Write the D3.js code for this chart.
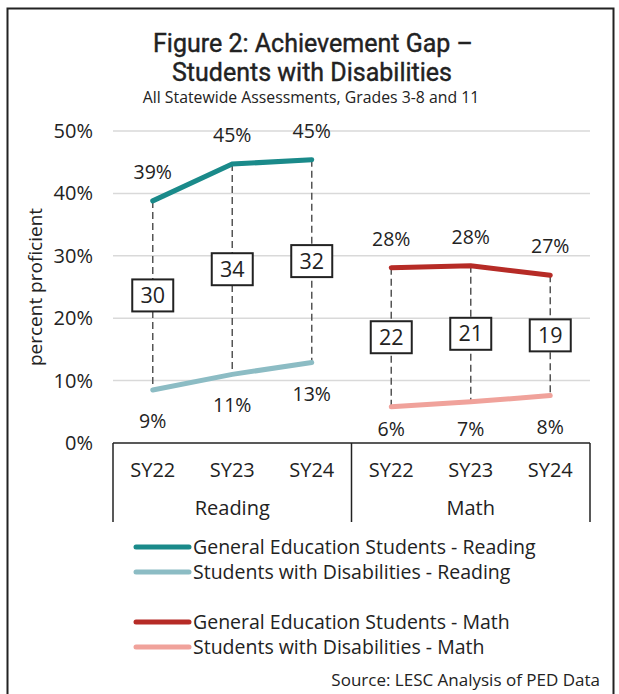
<!DOCTYPE html>
<html>
<head>
<meta charset="utf-8">
<script src="https://cdn.jsdelivr.net/npm/d3@7"></script>
<style>
  body { margin: 0; background: #fff; }
  svg text { font-family: "Open Sans", "Liberation Sans", Arial, sans-serif; fill: #222; }
</style>
</head>
<body>
<div id="chart"></div>
<script>
// data
const years = ['SY22', 'SY23', 'SY24'];
const subjects = ['Reading', 'Math'];
const genEdReading = [38.8, 44.7, 45.4];
const swdReading = [8.5, 11.0, 12.9];
const genEdMath = [28.1, 28.4, 26.9];
const swdMath = [5.8, 6.6, 7.6];
const genEdReadingLabels = ['39%', '45%', '45%'];
const swdReadingLabels = ['9%', '11%', '13%'];
const genEdMathLabels = ['28%', '28%', '27%'];
const swdMathLabels = ['6%', '7%', '8%'];
const readingGaps = [30, 34, 32];
const mathGaps = [22, 21, 19];
const yTicks = [0, 10, 20, 30, 40, 50];

const seriesNames = [
  'General Education Students - Reading',
  'Students with Disabilities - Reading',
  'General Education Students - Math',
  'Students with Disabilities - Math'
];
const seriesColors = ['#1a8a8a', '#8cbcc4', '#b62b26', '#f0a29b'];

const width = 619,
    height = 694,
    margins = { top: 131, right: 29, bottom: 251, left: 113 };

const $svg = d3.select('#chart').append('svg')
  .attr('width', width)
  .attr('height', height);

// frame
$svg.append('path')
  .attr('d', `M7.5,${height + 2}V8.5H613.5V${height + 2}`)
  .attr('fill', 'none')
  .attr('stroke', '#222')
  .attr('stroke-width', 2);

// title
const titleFont = 'Roboto, "Liberation Sans", sans-serif';
$svg.append('text')
  .attr('x', 313).attr('y', 52)
  .attr('text-anchor', 'middle')
  .style('font-family', titleFont)
  .style('font-size', '25px')
  .style('stroke', '#222')
  .style('stroke-width', 0.4)
  .text('Figure 2: Achievement Gap –');
$svg.append('text')
  .attr('x', 312).attr('y', 81)
  .attr('text-anchor', 'middle')
  .style('font-family', titleFont)
  .style('font-size', '25px')
  .style('stroke', '#222')
  .style('stroke-width', 0.4)
  .text('Students with Disabilities');
$svg.append('text')
  .attr('x', 311).attr('y', 103)
  .attr('text-anchor', 'middle')
  .style('font-size', '15.8px')
  .text('All Statewide Assessments, Grades 3-8 and 11');

// scales
const cats = [];
subjects.forEach(s => years.forEach(y => cats.push(s + '|' + y)));

const x = d3.scaleBand()
  .domain(cats)
  .range([margins.left, width - margins.right]);

const y = d3.scaleLinear()
  .domain([0, 50])
  .range([height - margins.bottom, margins.top]);

const cx = (s, yr) => x(s + '|' + yr) + x.bandwidth() / 2;

// gridlines
$svg.append('g')
  .selectAll('line')
  .data(yTicks.filter(d => d > 0))
  .enter()
  .append('line')
  .attr('x1', x.range()[0])
  .attr('x2', x.range()[1])
  .attr('y1', d => y(d))
  .attr('y2', d => y(d))
  .attr('stroke', '#d9d9d9')
  .attr('stroke-width', 1.5);

// y axis
const yAxis = d3.axisLeft(y)
  .tickValues(yTicks)
  .tickSize(0)
  .tickPadding(20)
  .tickFormat(d => d + '%');

const $yAxis = $svg.append('g')
  .attr('transform', `translate(${margins.left},0)`)
  .call(yAxis);
$yAxis.select('.domain').remove();
$yAxis.selectAll('text')
  .style('font-family', '"Open Sans", sans-serif')
  .style('font-size', '20px')
  .style('fill', '#222');

$svg.append('text')
  .attr('transform', `translate(42,${(y(0) + y(50)) / 2}) rotate(-90)`)
  .attr('text-anchor', 'middle')
  .style('font-size', '19px')
  .text('percent proficient');

// category axis (two levels)
const axisTop = y(0);
const axisBottom = 522;
const $catAxis = $svg.append('g');

$catAxis.append('line')
  .attr('x1', x.range()[0]).attr('x2', x.range()[1])
  .attr('y1', axisTop).attr('y2', axisTop)
  .attr('stroke', '#222').attr('stroke-width', 1.5);

const bounds = [x.range()[0]].concat(subjects.map(s => x(s + '|' + years[years.length - 1]) + x.bandwidth()));
$catAxis.selectAll('.sep')
  .data(bounds)
  .enter()
  .append('line')
  .attr('x1', d => d).attr('x2', d => d)
  .attr('y1', axisTop).attr('y2', axisBottom)
  .attr('stroke', '#222').attr('stroke-width', 1.5);

$catAxis.selectAll('.year-label')
  .data(cats)
  .enter()
  .append('text')
  .attr('x', d => x(d) + x.bandwidth() / 2)
  .attr('y', 477)
  .attr('text-anchor', 'middle')
  .style('font-size', '20px')
  .text(d => d.split('|')[1]);

$catAxis.selectAll('.subject-label')
  .data(subjects)
  .enter()
  .append('text')
  .attr('x', d => (x(d + '|' + years[0]) + x(d + '|' + years[years.length - 1]) + x.bandwidth()) / 2)
  .attr('y', 515)
  .attr('text-anchor', 'middle')
  .style('font-size', '20px')
  .text(d => d);

// groups of series
const groups = [
  { subject: 'Reading', top: genEdReading, bottom: swdReading, topLabels: genEdReadingLabels, bottomLabels: swdReadingLabels, gaps: readingGaps, colors: [seriesColors[0], seriesColors[1]] },
  { subject: 'Math', top: genEdMath, bottom: swdMath, topLabels: genEdMathLabels, bottomLabels: swdMathLabels, gaps: mathGaps, colors: [seriesColors[2], seriesColors[3]] }
];

const line = d3.line()
  .x(d => d[0])
  .y(d => d[1]);

groups.forEach(g => {
  const topPts = years.map((yr, i) => [cx(g.subject, yr), y(g.top[i])]);
  const botPts = years.map((yr, i) => [cx(g.subject, yr), y(g.bottom[i])]);

  // dashed connectors
  $svg.append('g')
    .selectAll('line')
    .data(years)
    .enter()
    .append('line')
    .attr('x1', (d, i) => topPts[i][0])
    .attr('x2', (d, i) => botPts[i][0])
    .attr('y1', (d, i) => topPts[i][1])
    .attr('y2', (d, i) => botPts[i][1])
    .attr('stroke', '#555')
    .attr('stroke-width', 1.5)
    .attr('stroke-dasharray', '7,4');

  $svg.append('path')
    .attr('d', line(topPts))
    .attr('fill', 'none')
    .attr('stroke', g.colors[0])
    .attr('stroke-width', 5)
    .attr('stroke-linecap', 'round');

  $svg.append('path')
    .attr('d', line(botPts))
    .attr('fill', 'none')
    .attr('stroke', g.colors[1])
    .attr('stroke-width', 5)
    .attr('stroke-linecap', 'round');

  // value labels
  $svg.append('g')
    .selectAll('text')
    .data(g.topLabels)
    .enter()
    .append('text')
    .attr('x', (d, i) => topPts[i][0])
    .attr('y', (d, i) => topPts[i][1] - 22)
    .attr('text-anchor', 'middle')
    .style('font-size', '19.5px')
    .text(d => d);

  $svg.append('g')
    .selectAll('text')
    .data(g.bottomLabels)
    .enter()
    .append('text')
    .attr('x', (d, i) => botPts[i][0])
    .attr('y', (d, i) => Math.min(botPts[i][1] + 38, 436))
    .attr('text-anchor', 'middle')
    .style('font-size', '19.5px')
    .text(d => d);

  // gap boxes
  const $boxes = $svg.append('g')
    .selectAll('g')
    .data(g.gaps)
    .enter()
    .append('g')
    .attr('transform', (d, i) => `translate(${topPts[i][0]},${(topPts[i][1] + botPts[i][1]) / 2})`);

  $boxes.append('rect')
    .attr('x', -20.5).attr('y', -16)
    .attr('width', 41).attr('height', 32)
    .attr('fill', '#fff')
    .attr('stroke', '#222')
    .attr('stroke-width', 2);

  $boxes.append('text')
    .attr('y', 7.5)
    .attr('text-anchor', 'middle')
    .style('font-size', '21.5px')
    .text(d => d);
});

// legend
const legendY = [547, 572, 622, 647];
const $legend = $svg.append('g')
  .selectAll('g')
  .data(seriesNames)
  .enter()
  .append('g')
  .attr('transform', (d, i) => `translate(136,${legendY[i]})`);

$legend.append('line')
  .attr('x1', 0).attr('x2', 53)
  .attr('stroke', (d, i) => seriesColors[i])
  .attr('stroke-width', 5)
  .attr('stroke-linecap', 'round');

$legend.append('text')
  .attr('x', 57)
  .attr('y', 7)
  .style('font-size', '19.5px')
  .text(d => d);

// source
$svg.append('text')
  .attr('x', 600)
  .attr('y', 686)
  .attr('text-anchor', 'end')
  .style('font-size', '17px')
  .text('Source: LESC Analysis of PED Data');
</script>
</body>
</html>
